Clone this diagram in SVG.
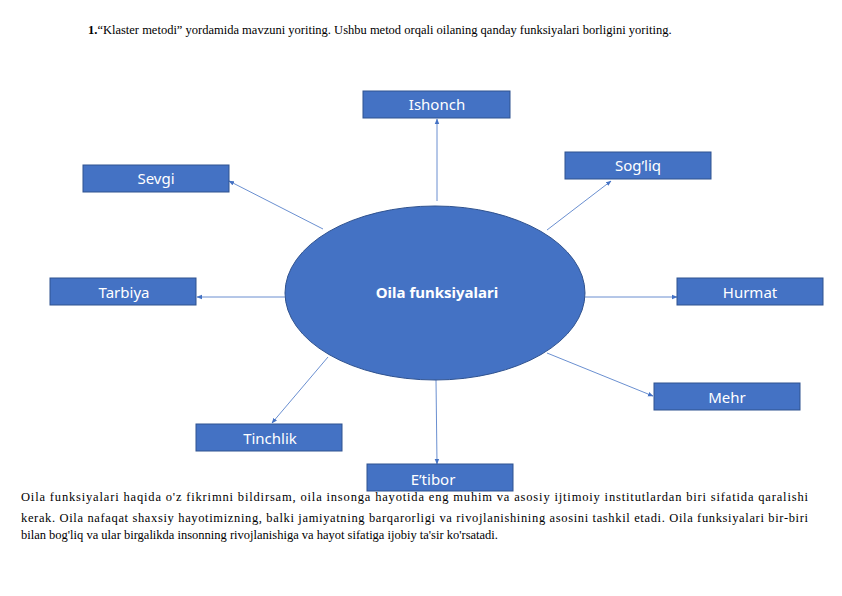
<svg xmlns="http://www.w3.org/2000/svg" width="842" height="596" viewBox="0 0 842 596">
<style>
.b{fill:#4472C4;stroke:#2F528F;stroke-width:1}
.t{font-family:"Noto Sans","Open Sans",sans-serif;font-size:15px;fill:#fff;text-anchor:middle}
.c{stroke:#4472C4;stroke-width:0.8;fill:none;marker-end:url(#a)}
.p{font-family:"Liberation Serif",serif;font-size:12.5px;fill:#000}
</style>
<defs><marker id="a" viewBox="0 0 10 10" refX="9" refY="5" markerWidth="7" markerHeight="7" orient="auto"><path d="M0,1 L10,5 L0,9 z" fill="#4472C4"/></marker></defs>
<rect width="842" height="596" fill="#fff"/>
<text class="p" x="88" y="34" font-size="13"><tspan font-weight="bold">1.</tspan>“Klaster metodi” yordamida mavzuni yoriting. Ushbu metod orqali oilaning qanday funksiyalari borligini yoriting.</text>
<g id="connectors">
<line class="c" x1="437" y1="201" x2="437" y2="119"/>
<line class="c" x1="547" y1="230" x2="611" y2="181"/>
<line class="c" x1="323" y1="229" x2="229" y2="181"/>
<line class="c" x1="285" y1="297" x2="197" y2="297"/>
<line class="c" x1="585" y1="297" x2="677" y2="297"/>
<line class="c" x1="547" y1="353" x2="653" y2="396"/>
<line class="c" x1="328" y1="357" x2="272" y2="423"/>
<line class="c" x1="436" y1="380" x2="437" y2="464"/>
</g>
<g id="center"><ellipse class="b" cx="435" cy="293" rx="150" ry="87"/><text class="t" x="437" y="298" font-weight="bold">Oila funksiyalari</text></g>
<g id="ishonch"><rect class="b" x="363" y="91" width="147" height="27"/><text class="t" x="437" y="110">Ishonch</text></g>
<g id="sogliq"><rect class="b" x="565" y="152" width="146" height="27"/><text class="t" x="638" y="171">Sog’liq</text></g>
<g id="sevgi"><rect class="b" x="83" y="165" width="146" height="27"/><text class="t" x="156" y="184">Sevgi</text></g>
<g id="tarbiya"><rect class="b" x="50" y="278" width="146" height="27"/><text class="t" x="124" y="298">Tarbiya</text></g>
<g id="hurmat"><rect class="b" x="677" y="278" width="146" height="27"/><text class="t" x="750" y="298">Hurmat</text></g>
<g id="mehr"><rect class="b" x="654" y="383" width="146" height="27"/><text class="t" x="727" y="403">Mehr</text></g>
<g id="tinchlik"><rect class="b" x="196" y="424" width="146" height="27"/><text class="t" x="270" y="444">Tinchlik</text></g>
<g id="etibor"><rect class="b" x="367" y="464" width="146" height="27"/><text class="t" x="433" y="485">E’tibor</text></g>
<text class="p" x="21" y="501" textLength="787" lengthAdjust="spacing">Oila funksiyalari haqida o'z fikrimni bildirsam, oila insonga hayotida eng muhim va asosiy ijtimoiy institutlardan biri sifatida qaralishi</text>
<text class="p" x="21" y="522" textLength="787" lengthAdjust="spacing">kerak. Oila nafaqat shaxsiy hayotimizning, balki jamiyatning barqarorligi va rivojlanishining asosini tashkil etadi. Oila funksiyalari bir-biri</text>
<text class="p" x="21" y="539">bilan bog'liq va ular birgalikda insonning rivojlanishiga va hayot sifatiga ijobiy ta'sir ko'rsatadi.</text>
</svg>
